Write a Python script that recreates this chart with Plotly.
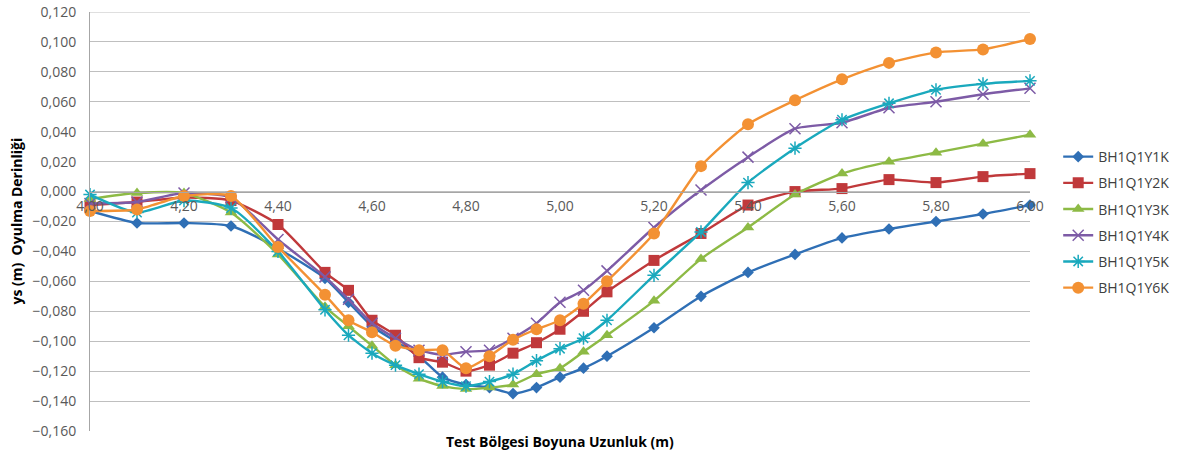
import plotly.graph_objects as go

x_vals = [4.00, 4.10, 4.20, 4.30, 4.40, 4.50, 4.55, 4.60, 4.65, 4.70, 4.75, 4.80, 4.85,
          4.90, 4.95, 5.00, 5.05, 5.10, 5.20, 5.30, 5.40, 5.50, 5.60, 5.70, 5.80, 5.90, 6.00]

y1k = [-0.013, -0.021, -0.021, -0.023, -0.038, -0.058, -0.074, -0.090, -0.100, -0.110, -0.124, -0.129, -0.131,
       -0.135, -0.131, -0.124, -0.118, -0.110, -0.091, -0.070, -0.054, -0.042, -0.031, -0.025, -0.020, -0.015, -0.009]
y2k = [-0.009, -0.007, -0.004, -0.006, -0.022, -0.054, -0.066, -0.086, -0.096, -0.111, -0.114, -0.120, -0.116,
       -0.108, -0.101, -0.092, -0.080, -0.067, -0.046, -0.028, -0.009, 0.000, 0.002, 0.008, 0.006, 0.010, 0.012]
y3k = [-0.005, -0.001, -0.001, -0.014, -0.042, -0.077, -0.090, -0.103, -0.116, -0.125, -0.130, -0.132, -0.131,
       -0.129, -0.122, -0.118, -0.107, -0.096, -0.073, -0.045, -0.024, -0.002, 0.012, 0.020, 0.026, 0.032, 0.038]
y4k = [-0.008, -0.007, -0.001, -0.004, -0.032, -0.057, -0.072, -0.088, -0.098, -0.106, -0.109, -0.107, -0.106,
       -0.098, -0.088, -0.074, -0.066, -0.053, -0.024, 0.001, 0.023, 0.042, 0.046, 0.056, 0.060, 0.065, 0.069]
y5k = [-0.002, -0.014, -0.006, -0.011, -0.040, -0.079, -0.096, -0.108, -0.116, -0.122, -0.127, -0.130, -0.127,
       -0.122, -0.113, -0.105, -0.098, -0.086, -0.056, -0.027, 0.006, 0.029, 0.048, 0.059, 0.068, 0.072, 0.074]
y6k = [-0.013, -0.012, -0.003, -0.003, -0.037, -0.069, -0.086, -0.094, -0.103, -0.106, -0.106, -0.118, -0.110,
       -0.099, -0.092, -0.086, -0.075, -0.060, -0.028, 0.017, 0.045, 0.061, 0.075, 0.086, 0.093, 0.095, 0.102]

series_names = ["BH1Q1Y1K", "BH1Q1Y2K", "BH1Q1Y3K", "BH1Q1Y4K", "BH1Q1Y5K", "BH1Q1Y6K"]
x_ticks = [4.0, 4.2, 4.4, 4.6, 4.8, 5.0, 5.2, 5.4, 5.6, 5.8, 6.0]
y_ticks = [0.12, 0.10, 0.08, 0.06, 0.04, 0.02, 0.0, -0.02, -0.04, -0.06, -0.08, -0.10, -0.12, -0.14, -0.16]
x_title = "Test Bölgesi Boyuna Uzunluk (m)"
y_title = "ys (m)\u00a0 Oyulma Derinliği"

series_vals = [y1k, y2k, y3k, y4k, y5k, y6k]
colors = ["#2f6fb5", "#c0393b", "#8dba45", "#7d5ba6", "#1aa9bd", "#f39133"]
symbols = ["diamond", "square", "triangle-up", "x-thin-open", "asterisk-open", "circle"]
sizes = [9, 11, 11, 11, 11, 12]

FONT = "Open Sans, Liberation Sans, sans-serif"

fig = go.Figure()
for i, (name, vals) in enumerate(zip(series_names, series_vals)):
    fig.add_trace(go.Scatter(
        x=x_vals, y=vals, name=name, mode="lines+markers",
        line=dict(color=colors[i], width=2.4, shape="spline", smoothing=0.6),
        marker=dict(symbol=symbols[i], size=sizes[i], color=colors[i],
                    line=dict(color=colors[i], width=1.5 if i in (3, 4) else 0)),
        cliponaxis=False, legendgroup=name,
    ))

tick_font = dict(family=FONT, size=14, color="#595959")

fig.update_layout(
    width=1192, height=459,
    margin=dict(l=90, r=162, t=12, b=28),
    plot_bgcolor="white", paper_bgcolor="white",
    separators=",.",
    showlegend=True,
    legend=dict(x=1.03, y=0.692, xanchor="left", yanchor="top",
                font=dict(family=FONT, size=14, color="#404040"),
                traceorder="grouped", tracegroupgap=5, bgcolor="rgba(0,0,0,0)"),
    xaxis=dict(range=[4.0, 6.0], tickvals=x_ticks, tickformat=".2f",
               anchor="free", position=0.16 / 0.28, side="bottom", automargin=False,
               showgrid=False, zeroline=False, showline=True, linecolor="#a6a6a6", linewidth=1,
               ticks="", tickfont=tick_font, ticklabelstandoff=2, ticklabeloverflow="allow"),
    yaxis=dict(range=[-0.16, 0.12], tickvals=y_ticks, tickformat=".3f", automargin=False,
               showgrid=True, gridcolor="#bfbfbf", gridwidth=1, zeroline=False,
               showline=True, linecolor="#a6a6a6", linewidth=1, ticks="", tickfont=tick_font,
               ticklabelstandoff=10, ticklabeloverflow="allow"),
    shapes=[dict(type="line", xref="paper", yref="y", x0=0, x1=1, y0=y_ticks[0], y1=y_ticks[0],
                 line=dict(color="#bfbfbf", width=1), layer="below")],
    annotations=[
        dict(text="<b>" + x_title + "</b>", x=0.5, y=-10 / 419,
             xref="paper", yref="paper", xanchor="center", yanchor="middle", showarrow=False,
             font=dict(family=FONT, size=14, color="#000000")),
        dict(text="<b>" + y_title + "</b>", x=-74 / 940, y=0.5, textangle=-90,
             xref="paper", yref="paper", xanchor="center", yanchor="middle", showarrow=False,
             font=dict(family=FONT, size=14, color="#000000")),
    ],
)

fig.write_html("out.html", config={"displayModeBar": False},
               post_script="document.body.style.margin='0';document.body.style.overflow='hidden';")
